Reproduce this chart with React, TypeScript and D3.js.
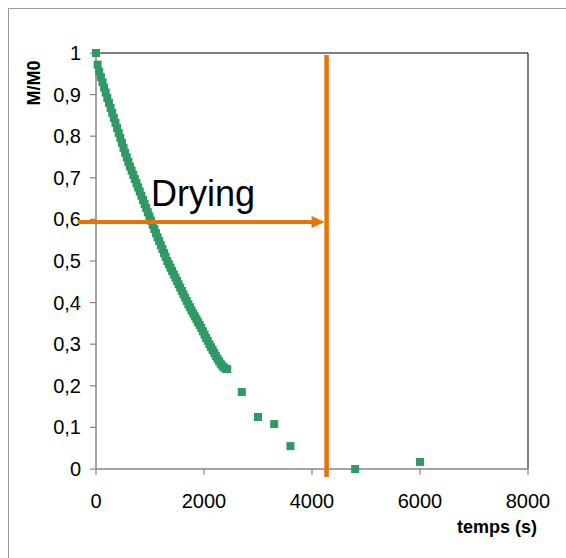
import React from "react";
import * as d3 from "d3";

// ---- data ----
const firstTime = [0];
const firstValue = [1.0];

const denseTime = [
  30, 60, 90, 120, 150, 180, 210, 240, 270, 300, 330, 360, 390, 420, 450, 480, 510, 540, 570, 600,
  630, 660, 690, 720, 750, 780, 810, 840, 870, 900, 930, 960, 990, 1020, 1050, 1080, 1110, 1140, 1170, 1200,
  1230, 1260, 1290, 1320, 1350, 1380, 1410, 1440, 1470, 1500, 1530, 1560, 1590, 1620, 1650, 1680, 1710, 1740, 1770, 1800,
  1830, 1860, 1890, 1920, 1950, 1980, 2010, 2040, 2070, 2100, 2130, 2160, 2190, 2220, 2250, 2280, 2310, 2340, 2370, 2400,
  2430,
];
const denseValue = [
  0.972, 0.955, 0.942, 0.93, 0.917, 0.905, 0.892, 0.88, 0.868, 0.856, 0.844, 0.832, 0.82, 0.808, 0.796, 0.784, 0.772, 0.76, 0.749, 0.738,
  0.727, 0.717, 0.707, 0.697, 0.687, 0.677, 0.667, 0.657, 0.647, 0.637, 0.627, 0.617, 0.607, 0.597, 0.587, 0.577, 0.567, 0.557, 0.548, 0.538,
  0.529, 0.519, 0.51, 0.5, 0.492, 0.484, 0.476, 0.468, 0.46, 0.452, 0.444, 0.436, 0.428, 0.42, 0.412, 0.404, 0.396, 0.389, 0.381, 0.374,
  0.367, 0.36, 0.353, 0.346, 0.339, 0.331, 0.323, 0.315, 0.308, 0.3, 0.293, 0.286, 0.279, 0.272, 0.265, 0.259, 0.253, 0.248, 0.244, 0.241,
  0.24,
];
const sparseTime = [2700, 3000, 3300, 3600, 4800, 6000];
const sparseValue = [0.185, 0.125, 0.108, 0.055, 0.0, 0.017];

const xTicks = [0, 2000, 4000, 6000, 8000];
const yTicks = [0, 0.1, 0.2, 0.3, 0.4, 0.5, 0.6, 0.7, 0.8, 0.9, 1];
const yTickLabels = ["0", "0,1", "0,2", "0,3", "0,4", "0,5", "0,6", "0,7", "0,8", "0,9", "1"];

const dryingEnd = 4270; // vertical line time
const dryingLineTop = 0.995;
const dryingLineBottom = -0.019;
const arrowLevel = 0.594;
const arrowStart = -335;
const annotation = "Drying";
const xTitle = "temps (s)";
const yTitle = "M/M0";

const GREEN = "#2f9a64";
const ORANGE = "#e8730a";
const FONT = "'Liberation Sans', Arial, sans-serif";

export default function App() {
  const x = d3.scaleLinear().domain([0, 8000]).range([96, 528]);
  const y = d3.scaleLinear().domain([0, 1]).range([469, 53]);
  const S = 8;

  const points = [
    ...firstTime.map((t, i) => [t, firstValue[i]]),
    ...denseTime.map((t, i) => [t, denseValue[i]]),
    ...sparseTime.map((t, i) => [t, sparseValue[i]]),
  ];

  const arrowEndX = x(dryingEnd) - 2;
  const ay = y(arrowLevel);

  return (
    <svg
      width={566}
      height={558}
      style={{ position: "absolute", left: 0, top: 0, background: "#fff" }}
      fontFamily={FONT}
    >
      <rect x={0} y={0} width={566} height={558} fill="#fff" />
      <rect x={8.5} y={8.5} width={620} height={620} fill="none" stroke="#9a9a9a" strokeWidth={1} />

      {/* plot frame: top/right black */}
      <line x1={x(0)} x2={x(8000)} y1={y(1)} y2={y(1)} stroke="#000" strokeWidth={1} />
      <line x1={x(8000)} x2={x(8000)} y1={y(1)} y2={y(0)} stroke="#000" strokeWidth={1} />

      {/* y axis */}
      <line x1={x(0)} x2={x(0)} y1={y(1)} y2={y(0)} stroke="#868686" strokeWidth={1.5} />
      {yTicks.map((v, i) => (
        <g key={"y" + i}>
          <line x1={x(0) - 6} x2={x(0)} y1={y(v)} y2={y(v)} stroke="#868686" strokeWidth={1.2} />
          <text x={81} y={y(v) + 7} textAnchor="end" fontSize={20} fill="#000">
            {yTickLabels[i]}
          </text>
        </g>
      ))}

      {/* x axis */}
      <line x1={x(0)} x2={x(8000)} y1={y(0)} y2={y(0)} stroke="#868686" strokeWidth={1.5} />
      {xTicks.map((t, i) => (
        <g key={"x" + i}>
          <line x1={x(t)} x2={x(t)} y1={y(0)} y2={y(0) + 6} stroke="#868686" strokeWidth={1.2} />
          <text x={x(t)} y={508} textAnchor="middle" fontSize={20} fill="#000">
            {String(t)}
          </text>
        </g>
      ))}

      {/* data */}
      {points.map(([t, v], i) => (
        <rect key={"p" + i} x={x(t) - S / 2} y={y(v) - S / 2} width={S} height={S} fill={GREEN} />
      ))}

      {/* drying annotation */}
      <line x1={x(dryingEnd)} x2={x(dryingEnd)} y1={y(dryingLineTop)} y2={y(dryingLineBottom)} stroke={ORANGE} strokeWidth={4.5} />
      <line x1={x(arrowStart)} x2={arrowEndX - 10} y1={ay} y2={ay} stroke={ORANGE} strokeWidth={4} />
      <path d={`M${arrowEndX - 13},${ay - 6} L${arrowEndX},${ay} L${arrowEndX - 13},${ay + 6} Z`} fill={ORANGE} />
      <text x={151} y={206} fontSize={36} fill="#000">
        {annotation}
      </text>

      {/* titles */}
      <text x={537} y={533} textAnchor="end" fontSize={18} fontWeight="bold" fill="#000">
        {xTitle}
      </text>
      <text
        transform={`translate(40, ${83}) rotate(-90)`}
        textAnchor="middle"
        fontSize={18}
        fontWeight="bold"
        fill="#000"
      >
        {yTitle}
      </text>
    </svg>
  );
}
